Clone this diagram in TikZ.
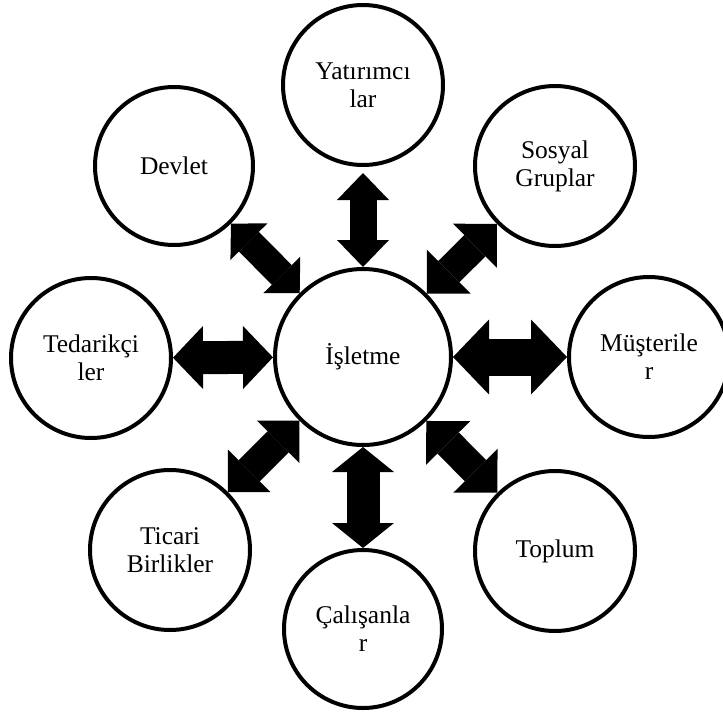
\documentclass[tikz,border=0pt]{standalone}
\usepackage{fontspec}
\setmainfont{Liberation Serif}
\usetikzlibrary{arrows.meta}
\begin{document}
\begin{tikzpicture}[x=1pt,y=-1pt,
  party/.style={circle, draw, line width=4pt, minimum size=#1, inner sep=0pt,
    align=center, font=\fontsize{25.5}{28}\selectfont},
  dblarrow/.style n args={3}{line width=#1,
    arrows={Triangle[length=#2,width=#3,line width=0pt]-Triangle[length=#2,width=#3,line width=0pt]}}]
  % canvas
  \useasboundingbox (0,0) rectangle (723,715);
  \clip (0,0) rectangle (723,715);
  \fill[white] (0,0) rectangle (723,715);

  % the enterprise in the middle
  \node[party=176pt] (isletme) at (363,357) {İşletme};

  % stakeholders around it
  \node[party=160pt] (yatirimci) at (363,85)  {Yatırımcı\\lar};
  \node[party=158pt] (devlet)    at (174,166) {Devlet};
  \node[party=160pt] (sosyal)    at (555,166) {Sosyal\\Gruplar};
  \node[party=160pt] (tedarikci) at (91,358)  {Tedarikçi\\ler};
  \node[party=160pt] (musteri)   at (649,357) {Müşterile\\r};
  \node[party=160pt] (ticari)    at (170,550) {Ticari\\Birlikler};
  \node[party=160pt] (toplum)    at (555,551) {Toplum};
  \node[party=158pt] (calisan)   at (363,629) {Çalışanla\\r};

  % two-way relations
  \draw[dblarrow={27pt}{27pt}{52pt}, shorten <=6pt] (yatirimci) -- (isletme);
  \draw[dblarrow={28pt}{25.5pt}{52pt}] (devlet)    -- (isletme);
  \draw[dblarrow={30pt}{31pt}{62pt}]   (sosyal)    -- (isletme);
  \draw[dblarrow={33pt}{30pt}{63pt}]   (tedarikci) -- (isletme);
  \draw[dblarrow={37pt}{36pt}{75pt}]   (musteri)   -- (isletme);
  \draw[dblarrow={30pt}{30pt}{60pt}]   (ticari)    -- (isletme);
  \draw[dblarrow={30pt}{31pt}{62pt}]   (toplum)    -- (isletme);
  \draw[dblarrow={33pt}{25pt}{62pt}]   (calisan)   -- (isletme);
\end{tikzpicture}
\end{document}
